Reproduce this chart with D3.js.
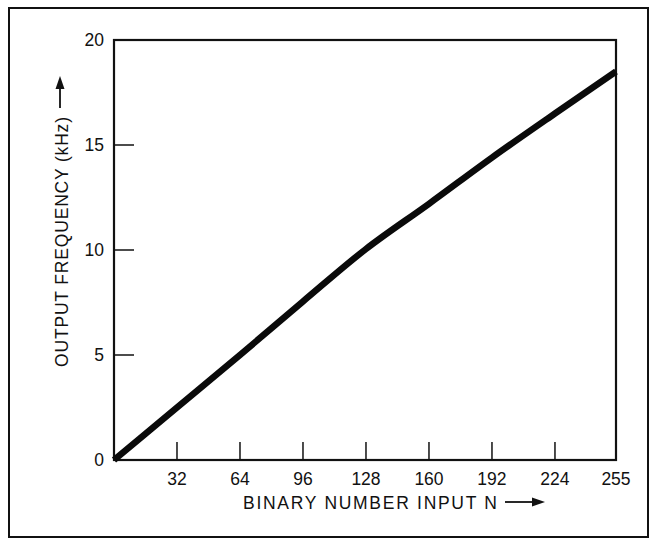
<!DOCTYPE html>
<html>
<head>
<meta charset="utf-8">
<script src="https://cdn.jsdelivr.net/npm/d3@7"></script>
<style>
  html, body { margin: 0; padding: 0; background: #fff; }
  svg { display: block; }
  text { font-family: "Liberation Sans", Arial, Helvetica, sans-serif; fill: #111; }
</style>
</head>
<body>
<script>
// Binary input N and the resulting output frequency (kHz)
const inputN = [0, 32, 64, 96, 128, 160, 192, 224, 255];
const freqKHz = [0, 2.5, 5.0, 7.55, 10.05, 12.2, 14.4, 16.5, 18.5];

// Axis tick values and labels
const xTicks = [32, 64, 96, 128, 160, 192, 224, 255];
const xTickLabels = ["32", "64", "96", "128", "160", "192", "224", "255"];
const yTicks = [0, 5, 10, 15, 20];
const yTickLabels = ["0", "5", "10", "15", "20"];

const W = 653, H = 539;
const svg = d3.select("body").append("svg").attr("width", W).attr("height", H);

const x = d3.scaleLinear().domain([0, 255]).range([114, 616]);
const y = d3.scaleLinear().domain([0, 20]).range([460, 40]);

// outer border
svg.append("rect")
  .attr("x", 9).attr("y", 8).attr("width", 639).attr("height", 529)
  .attr("fill", "none").attr("stroke", "#111").attr("stroke-width", 2);

// plot frame
svg.append("rect")
  .attr("x", x(0)).attr("y", y(20))
  .attr("width", x(255) - x(0)).attr("height", y(0) - y(20))
  .attr("fill", "none").attr("stroke", "#111").attr("stroke-width", 2.2);

// x ticks (inward, upward from the base)
svg.append("g").selectAll("line")
  .data(xTicks.filter(d => d < 255))
  .join("line")
  .attr("x1", d => x(d)).attr("x2", d => x(d))
  .attr("y1", y(0)).attr("y2", y(0) - 18)
  .attr("stroke", "#111").attr("stroke-width", 1.5);

// y ticks (inward, rightward from the left edge)
svg.append("g").selectAll("line")
  .data(yTicks.filter(d => d > 0 && d < 20))
  .join("line")
  .attr("x1", x(0)).attr("x2", x(0) + 20)
  .attr("y1", d => y(d)).attr("y2", d => y(d))
  .attr("stroke", "#111").attr("stroke-width", 1.5);

// x tick labels
svg.append("g").selectAll("text")
  .data(xTicks)
  .join("text")
  .attr("x", d => x(d)).attr("y", 485)
  .attr("text-anchor", "middle")
  .attr("font-size", 17.5)
  .text((d, i) => xTickLabels[i]);

// y tick labels
svg.append("g").selectAll("text")
  .data(yTicks)
  .join("text")
  .attr("x", 104).attr("y", d => y(d) + 6)
  .attr("text-anchor", "end")
  .attr("font-size", 17.5)
  .text((d, i) => yTickLabels[i]);

// x axis title with arrow
svg.append("text")
  .attr("x", 243).attr("y", 509)
  .attr("font-size", 17.5)
  .attr("textLength", 254).attr("lengthAdjust", "spacing")
  .text("BINARY NUMBER INPUT  N");

const arrowHead = (g, tipX, tipY, dir) => {
  // dir: "right" or "up"
  const pts = dir === "right"
    ? [[tipX, tipY], [tipX - 13, tipY - 4.5], [tipX - 13, tipY + 4.5]]
    : [[tipX, tipY], [tipX - 4.5, tipY + 13], [tipX + 4.5, tipY + 13]];
  g.append("polygon").attr("points", pts.map(p => p.join(",")).join(" ")).attr("fill", "#111");
};

svg.append("line")
  .attr("x1", 505).attr("x2", 535).attr("y1", 502).attr("y2", 502)
  .attr("stroke", "#111").attr("stroke-width", 1.8);
arrowHead(svg, 545, 502, "right");

// y axis title with arrow
svg.append("text")
  .attr("transform", "translate(67.5,367) rotate(-90)")
  .attr("font-size", 17.5)
  .attr("textLength", 250).attr("lengthAdjust", "spacing")
  .text("OUTPUT FREQUENCY  (kHz)");

svg.append("line")
  .attr("x1", 60).attr("x2", 60).attr("y1", 108).attr("y2", 86)
  .attr("stroke", "#111").attr("stroke-width", 1.8);
arrowHead(svg, 60, 76, "up");

// response curve
const line = d3.line()
  .x((d, i) => x(inputN[i]))
  .y(d => y(d))
  .curve(d3.curveMonotoneX);

svg.append("path")
  .attr("d", line(freqKHz))
  .attr("fill", "none")
  .attr("stroke", "#0a0a0a")
  .attr("stroke-width", 6.5)
  .attr("stroke-linejoin", "round")
  .attr("stroke-linecap", "butt");
</script>
</body>
</html>
